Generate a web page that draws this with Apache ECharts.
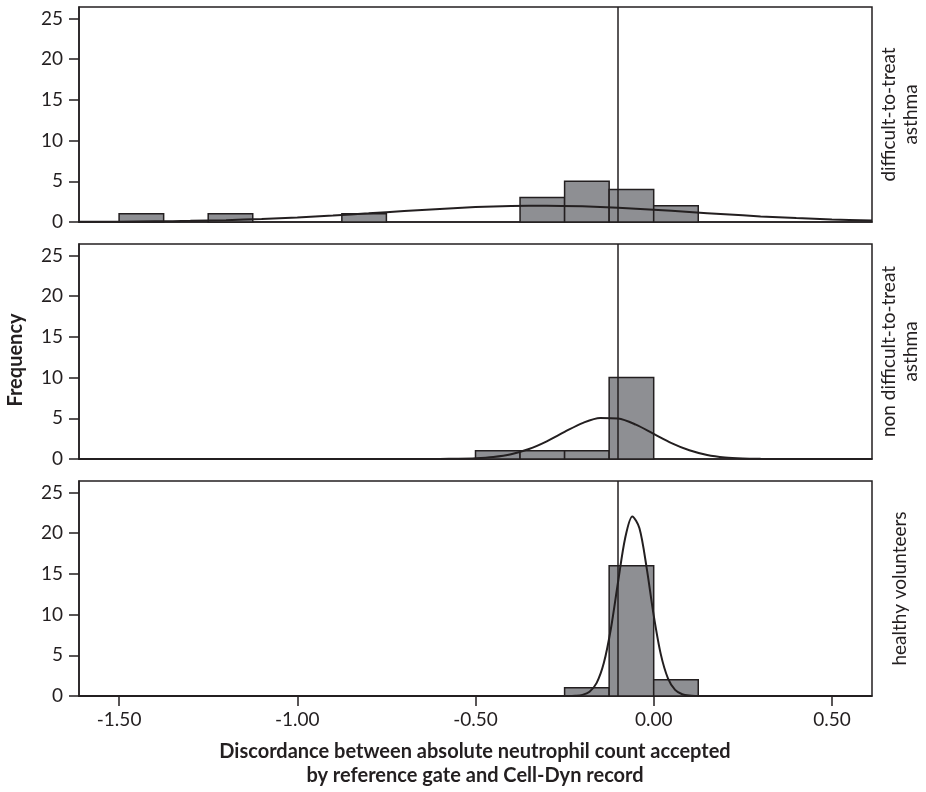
<!DOCTYPE html>
<html><head><meta charset="utf-8">
<script src="https://cdn.jsdelivr.net/npm/echarts@6/dist/echarts.min.js"></script>
<style>html,body{margin:0;padding:0;background:#fff}#c{width:926px;height:792px}</style>
</head><body><div id="c"></div>
<script>
// ---- data ----
const groupLabels = ['difficult-to-treat\nasthma', 'non difficult-to-treat\nasthma', 'healthy volunteers'];
const binWidth = 0.125;
const binStartsDTA = [-1.5, -1.25, -0.875, -0.375, -0.25, -0.125, 0];
const countsDTA = [1, 1, 1, 3, 5, 4, 2];
const binStartsNDTA = [-0.5, -0.375, -0.25, -0.125];
const countsNDTA = [1, 1, 1, 10];
const binStartsHV = [-0.25, -0.125, 0];
const countsHV = [1, 16, 2];
// fitted normal curves
const curveXDTA = [-1.6125, -1.5, -1.4, -1.3, -1.2, -1.1, -1.0, -0.9, -0.8, -0.7, -0.6, -0.5, -0.4, -0.3, -0.2, -0.1, 0, 0.1, 0.2, 0.3, 0.4, 0.5, 0.6125];
const curveYDTA = [0.02, 0.04, 0.08, 0.14, 0.23, 0.37, 0.56, 0.79, 1.06, 1.34, 1.61, 1.83, 1.96, 2.0, 1.92, 1.75, 1.51, 1.23, 0.95, 0.69, 0.48, 0.31, 0.17];
const curveXNDTA = [-1.6125, -1.4, -1.2, -1.0, -0.8, -0.7, -0.6, -0.55, -0.5, -0.45, -0.4, -0.35, -0.3, -0.25, -0.2, -0.15, -0.1, -0.05, 0, 0.05, 0.1, 0.15, 0.2, 0.25, 0.3, 0.35, 0.4, 0.5, 0.6125];
const curveYNDTA = [0, 0, 0, 0, 0, 0, 0.01, 0.03, 0.09, 0.25, 0.59, 1.22, 2.17, 3.33, 4.41, 5.04, 4.97, 4.22, 3.09, 1.96, 1.07, 0.5, 0.2, 0.07, 0.02, 0, 0, 0, 0];
const curveXHV = [-1.6125, -1.4, -1.2, -1.0, -0.8, -0.6, -0.4, -0.3, -0.26, -0.24, -0.22, -0.2, -0.18, -0.16, -0.14, -0.12, -0.1, -0.08, -0.06, -0.04, -0.02, 0, 0.02, 0.04, 0.06, 0.08, 0.1, 0.12, 0.14, 0.2, 0.3, 0.4, 0.5, 0.6125];
const curveYHV = [0, 0, 0, 0, 0, 0, 0, 0, 0, 0, 0.03, 0.14, 0.53, 1.61, 4.04, 8.29, 14.0, 19.4, 22.05, 20.6, 15.8, 9.91, 5.11, 2.17, 0.75, 0.22, 0.05, 0.01, 0, 0, 0, 0, 0, 0];
const referenceLine = -0.10;
const yTicks = [0, 5, 10, 15, 20, 25];
const xTicks = [-1.5, -1.0, -0.5, 0, 0.5];
const xTitle = 'Discordance between absolute neutrophil count accepted\nby reference gate and Cell-Dyn record';
const yTitle = 'Frequency';

// ---- chart ----
const INK = '#231f20';
const FONT = 'Lato';
const panels = [
  {starts: binStartsDTA, counts: countsDTA, cx: curveXDTA, cy: curveYDTA},
  {starts: binStartsNDTA, counts: countsNDTA, cx: curveXNDTA, cy: curveYNDTA},
  {starts: binStartsHV, counts: countsHV, cx: curveXHV, cy: curveYHV}
];
const gridTops = [7, 244, 481];
const gridH = 215, gridL = 79, gridW = 793;

const grid = [], xAxis = [], yAxis = [], series = [], graphic = [];
panels.forEach((p, i) => {
  const last = i === panels.length - 1;
  grid.push({left: gridL, top: gridTops[i], width: gridW, height: gridH, show: true,
    borderColor: INK, borderWidth: 1.5, backgroundColor: 'transparent'});
  xAxis.push({type: 'value', gridIndex: i, min: -1.6125, max: 0.6125,
    axisLine: {show: true, onZero: false, lineStyle: {color: INK, width: 1.5}},
    axisTick: {show: last, length: 10, customValues: xTicks, lineStyle: {color: INK, width: 1.5}},
    axisLabel: {show: last, customValues: xTicks, margin: 14, fontFamily: FONT, fontSize: 19, color: INK,
      formatter: v => v.toFixed(2)},
    splitLine: {show: false}});
  yAxis.push({type: 'value', gridIndex: i, min: 0, max: 26.4,
    axisLine: {show: true, onZero: false, lineStyle: {color: INK, width: 1.5}},
    axisTick: {show: true, length: 10, customValues: yTicks, lineStyle: {color: INK, width: 1.5}},
    axisLabel: {customValues: yTicks, margin: 16, fontFamily: FONT, fontSize: 19, color: INK},
    splitLine: {show: false}});
  series.push({type: 'custom', xAxisIndex: i, yAxisIndex: i, z: 2,
    data: p.starts.map((s, k) => [s, s + binWidth, p.counts[k]]),
    encode: {x: [0, 1], y: 2},
    renderItem: (params, api) => {
      const a = api.coord([api.value(0), api.value(2)]);
      const b = api.coord([api.value(1), 0]);
      return {type: 'rect', shape: {x: a[0], y: a[1], width: b[0] - a[0], height: b[1] - a[1]},
        style: {fill: '#8e8f93', stroke: INK, lineWidth: 1.5}};
    }});
  series.push({type: 'line', xAxisIndex: i, yAxisIndex: i, z: 3,
    data: p.cx.map((x, k) => [x, p.cy[k]]),
    smooth: 0.3, showSymbol: false, symbol: 'none',
    lineStyle: {color: INK, width: 2}, silent: true,
    markLine: {silent: true, symbol: 'none', label: {show: false},
      lineStyle: {color: INK, width: 1.5, type: 'solid'}, data: [{xAxis: referenceLine}]}});
  graphic.push({type: 'text', x: 900, y: gridTops[i] + gridH / 2, rotation: Math.PI / 2,
    style: {text: groupLabels[i], fontFamily: FONT, fontSize: 19, fill: INK,
      align: 'center', verticalAlign: 'middle', lineHeight: 22}});
});
graphic.push({type: 'text', x: 16, y: 360, rotation: Math.PI / 2,
  style: {text: yTitle, fontFamily: FONT, fontSize: 20, fontWeight: 'bold', fill: INK,
    align: 'center', verticalAlign: 'middle'}});
graphic.push({type: 'text', x: 475, y: 764,
  style: {text: xTitle, fontFamily: FONT, fontSize: 20, fontWeight: 'bold', fill: INK,
    align: 'center', verticalAlign: 'middle', lineHeight: 24}});

const chart = echarts.init(document.getElementById('c'), null, {renderer: 'canvas'});
chart.setOption({animation: false, backgroundColor: '#fff', grid, xAxis, yAxis, series, graphic});
</script>
</body></html>
